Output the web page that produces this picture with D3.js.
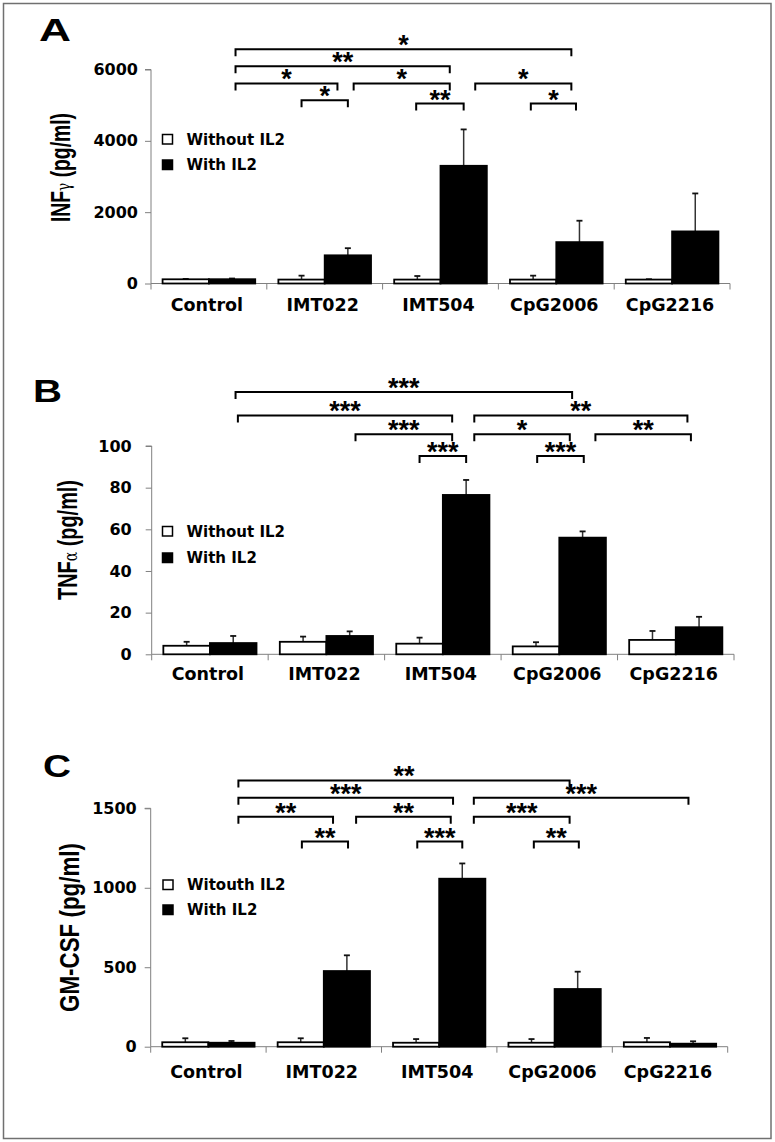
<!DOCTYPE html>
<html>
<head>
<meta charset="utf-8">
<script src="https://cdn.jsdelivr.net/npm/d3@7"></script>
<style>
  html, body { margin: 0; padding: 0; background: #fff; }
  svg { display: block; }
</style>
</head>
<body>
<svg id="fig" width="775" height="1142"></svg>
<script>
// ---------------- DATA ----------------
const categories = ["Control", "IMT022", "IMT504", "CpG2006", "CpG2216"];
const seriesKeys = ["without", "with"];

// Panel A: INF-gamma (pg/ml)
const infgWithout    = [118, 110, 110, 110, 110];
const infgWithoutErr = [10, 110, 100, 110, 10];
const infgWith       = [120, 790, 3300, 1160, 1460];
const infgWithErr    = [20, 200, 1020, 600, 1065];
const infgTicks      = [0, 2000, 4000, 6000];
// brackets: [from position, to position, level (pg/ml), label]
const infgBrackets = [
  [0.73, 3.63, 6570, "*"],
  [0.73, 2.58, 6090, "**"],
  [0.73, 1.61, 5610, "*"],
  [1.30, 1.70, 5140, "*"],
  [1.75, 2.58, 5610, "*"],
  [2.29, 2.70, 5045, "**"],
  [2.80, 3.63, 5610, "*"],
  [3.28, 3.67, 5045, "*"]
];

// Panel B: TNF-alpha (pg/ml)
const tnfWithout    = [4.1, 6.0, 5.1, 3.8, 6.9];
const tnfWithoutErr = [1.9, 2.5, 2.9, 2.0, 4.3];
const tnfWith       = [5.4, 8.8, 76.5, 56.0, 13.0];
const tnfWithErr    = [3.4, 2.2, 7.2, 3.0, 5.0];
const tnfTicks      = [0, 20, 40, 60, 80, 100];
const tnfBrackets = [
  [0.72, 3.61, 125.9, "***"],
  [0.74, 2.58, 114.7, "***"],
  [1.75, 2.58, 105.6, "***"],
  [2.30, 2.70, 95.2, "***"],
  [2.77, 4.60, 114.7, "**"],
  [2.77, 3.59, 105.6, "*"],
  [3.81, 4.63, 105.6, "**"],
  [3.31, 3.71, 95.2, "***"]
];

// Panel C: GM-CSF (pg/ml)
const gmWithout    = [28, 28, 25, 25, 28];
const gmWithoutErr = [25, 25, 23, 23, 27];
const gmWith       = [25, 476, 1057, 363, 19];
const gmWithErr    = [11, 99, 96, 109, 15];
const gmTicks      = [0, 500, 1000, 1500];
const gmBrackets = [
  [0.76, 3.63, 1675, "**"],
  [0.76, 2.62, 1566, "***"],
  [0.76, 1.58, 1447, "**"],
  [1.31, 1.71, 1291, "**"],
  [1.78, 2.60, 1447, "**"],
  [2.31, 2.70, 1291, "***"],
  [2.80, 4.66, 1566, "***"],
  [2.80, 3.63, 1447, "***"],
  [3.32, 3.71, 1291, "**"]
];

// ---------------- PANELS (layout) ----------------
const panels = [
  { title: "A", yLabel: [["INF", false], ["γ", true], [" (pg/ml)", false]],
    legend: ["Without IL2", "With IL2"],
    without: infgWithout, withoutErr: infgWithoutErr, with: infgWith, withErr: infgWithErr,
    ticks: infgTicks, brackets: infgBrackets, yMax: 6000,
    x0: 151, x1: 730, yb: 283.5, yt: 69.5, tickPad: 7, catY: 311,
    titleX: 39, titleY: 41, titleLen: 32,
    ylX: 69.5, ylY: 167.5, ylLen: 109,
    legX: 162.5, legY: 134.5, legGap: 25.5 },
  { title: "B", yLabel: [["TNF", false], ["α", true], [" (pg/ml)", false]],
    legend: ["Without IL2", "With IL2"],
    without: tnfWithout, withoutErr: tnfWithoutErr, with: tnfWith, withErr: tnfWithErr,
    ticks: tnfTicks, brackets: tnfBrackets, yMax: 100,
    x0: 151.7, x1: 734, yb: 654.3, yt: 446, tickPad: 14, catY: 679.5,
    titleX: 33, titleY: 402.3, titleLen: 29,
    ylX: 76.5, ylY: 540, ylLen: 120,
    legX: 162.5, legY: 526.5, legGap: 26.5 },
  { title: "C", yLabel: [["GM-CSF (pg/ml)", false]],
    legend: ["Witouth IL2", "With IL2"],
    without: gmWithout, withoutErr: gmWithoutErr, with: gmWith, withErr: gmWithErr,
    ticks: gmTicks, brackets: gmBrackets, yMax: 1500,
    x0: 150.7, x1: 727.7, yb: 1046.7, yt: 808.3, tickPad: 8, catY: 1078,
    titleX: 43, titleY: 776.7, titleLen: 28,
    ylX: 79, ylY: 927.5, ylLen: 169,
    legX: 163, legY: 880, legGap: 25 }
];

const svg = d3.select("#fig");
const AXIS = "#808080";
const BOLD = "'DejaVu Sans', sans-serif";
const ARIAL = "'Liberation Sans', Arial, sans-serif";

// outer frame
svg.append("rect").attr("x", 3.5).attr("y", 3.5).attr("width", 767.5).attr("height", 1135)
  .attr("fill", "none").attr("stroke", "#707070").attr("stroke-width", 1.5);

function drawPanel(p) {
  const g = svg.append("g");
  const x = d3.scaleBand().domain(categories).range([p.x0, p.x1]);
  const xs = d3.scaleBand().domain(seriesKeys).range([0, x.bandwidth()]).paddingInner(0).paddingOuter(0.25);
  const xpos = d3.scaleLinear().domain([0, categories.length]).range([p.x0, p.x1]);
  const y = d3.scaleLinear().domain([0, p.yMax]).range([p.yb, p.yt]);

  // y axis
  const yAxis = d3.axisLeft(y).tickValues(p.ticks).tickSize(6).tickPadding(p.tickPad).tickFormat(d3.format("d"));
  const ya = g.append("g").attr("transform", `translate(${p.x0},0)`).call(yAxis);
  ya.select(".domain").attr("stroke", AXIS).attr("d", `M-6,${y(p.yMax)}H0V${y(0)}`);
  ya.selectAll(".tick line").attr("stroke", AXIS);
  ya.selectAll(".tick text").attr("font-family", BOLD).attr("font-weight", "bold")
    .attr("font-size", 16).attr("fill", "#000");

  // x axis (boundary ticks)
  const boundaries = d3.range(categories.length + 1).map(i => xpos(i));
  g.append("line").attr("x1", p.x0).attr("x2", p.x1).attr("y1", y(0)).attr("y2", y(0))
    .attr("stroke", AXIS).attr("stroke-width", 1);
  g.selectAll(".xtick").data(boundaries).join("line")
    .attr("x1", d => d).attr("x2", d => d).attr("y1", y(0)).attr("y2", y(0) + 6)
    .attr("stroke", AXIS);
  g.selectAll(".cat").data(categories).join("text")
    .attr("x", d => x(d) + x.bandwidth() / 2 - 2).attr("y", p.catY)
    .attr("text-anchor", "middle").attr("font-family", BOLD).attr("font-weight", "bold")
    .attr("font-size", 17.5).text(d => d);

  // bars
  const rows = categories.map((c, i) => [
    { cat: c, key: "without", v: p.without[i], e: p.withoutErr[i] },
    { cat: c, key: "with", v: p.with[i], e: p.withErr[i] }
  ]).flat();

  // error bars (upper only)
  const eg = g.append("g");
  eg.selectAll("line.err").data(rows).join("line")
    .attr("x1", d => x(d.cat) + xs(d.key) + xs.bandwidth() / 2)
    .attr("x2", d => x(d.cat) + xs(d.key) + xs.bandwidth() / 2)
    .attr("y1", d => y(d.v)).attr("y2", d => y(d.v + d.e))
    .attr("stroke", "#333").attr("stroke-width", 1.5);
  eg.selectAll("line.cap").data(rows).join("line")
    .attr("x1", d => x(d.cat) + xs(d.key) + xs.bandwidth() / 2 - 3)
    .attr("x2", d => x(d.cat) + xs(d.key) + xs.bandwidth() / 2 + 3)
    .attr("y1", d => y(d.v + d.e)).attr("y2", d => y(d.v + d.e))
    .attr("stroke", "#111").attr("stroke-width", 1.8);

  g.append("g").selectAll("rect").data(rows).join("rect")
    .attr("x", d => x(d.cat) + xs(d.key))
    .attr("width", xs.bandwidth())
    .attr("y", d => y(d.v))
    .attr("height", d => y(0) - y(d.v))
    .attr("fill", d => d.key === "with" ? "#000" : "#fff")
    .attr("stroke", "#000").attr("stroke-width", 1.8);

  // significance brackets
  const bg = g.append("g");
  p.brackets.forEach(([a, b, lvl, lab]) => {
    const xa = xpos(a), xb = xpos(b), yl = y(lvl);
    bg.append("path").attr("d", `M${xa},${yl + 7}V${yl}H${xb}V${yl + 7}`)
      .attr("fill", "none").attr("stroke", "#000").attr("stroke-width", 2);
    bg.append("text").attr("x", (xa + xb) / 2).attr("y", yl + 5)
      .attr("text-anchor", "middle").attr("font-family", ARIAL).attr("font-weight", "bold")
      .attr("font-size", 27).text(lab);
  });

  // panel title
  g.append("text").attr("x", p.titleX).attr("y", p.titleY)
    .attr("font-family", ARIAL).attr("font-weight", "bold").attr("font-size", 31)
    .attr("textLength", p.titleLen).attr("lengthAdjust", "spacingAndGlyphs").text(p.title);

  // y label
  const yl = g.append("text")
    .attr("transform", `translate(${p.ylX},${p.ylY}) rotate(-90)`)
    .attr("text-anchor", "middle").attr("font-family", ARIAL).attr("font-weight", "bold")
    .attr("font-size", 27).attr("textLength", p.ylLen).attr("lengthAdjust", "spacingAndGlyphs");
  p.yLabel.forEach(([t, greek]) => {
    const ts = yl.append("tspan").text(t);
    if (greek) ts.attr("font-family", "'DejaVu Serif', 'Liberation Serif', serif").attr("font-weight", "normal").attr("font-size", 19);
  });

  // legend
  const lg = g.append("g");
  p.legend.forEach((lab, i) => {
    const ty = p.legY + i * p.legGap;
    lg.append("rect").attr("x", p.legX).attr("y", ty).attr("width", 10).attr("height", 9.5)
      .attr("fill", i === 1 ? "#000" : "#fff").attr("stroke", "#000").attr("stroke-width", 1.5);
    lg.append("text").attr("x", p.legX + 24).attr("y", ty + 10)
      .attr("font-family", BOLD).attr("font-weight", "bold").attr("font-size", 15).text(lab);
  });
}

panels.forEach(drawPanel);
</script>
</body>
</html>
